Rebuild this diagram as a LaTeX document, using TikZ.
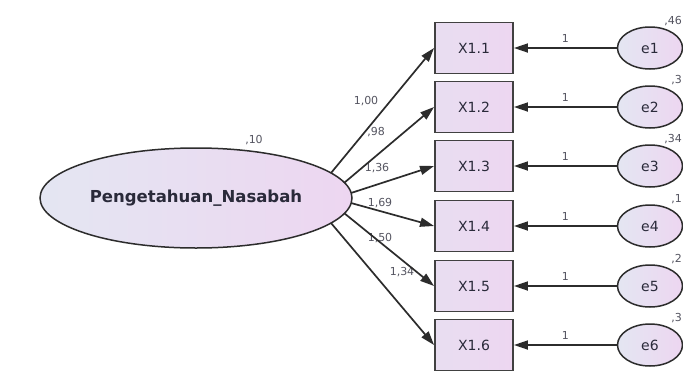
\documentclass[tikz,border=0pt]{standalone}
\usepackage{fontspec}
\setmainfont{DejaVu Sans}
\usetikzlibrary{arrows.meta,shapes.geometric}
\definecolor{edge}{HTML}{2C2C2C}
\definecolor{ink}{HTML}{2A2A3A}
\definecolor{lavL}{HTML}{E4E6F2}
\definecolor{lavR}{HTML}{EDD6F1}
\begin{document}
\begin{tikzpicture}[x=1pt,y=-1pt,
  latent/.style={ellipse,draw=edge,line width=1.5pt,left color=lavL,right color=lavR,
    inner sep=0pt,text=ink},
  observed/.style={rectangle,draw=edge!90,line width=1.9pt,left color=lavL!50!lavR,right color=lavR,
    minimum width=78pt,minimum height=51pt,inner sep=0pt,text=ink,font=\fontsize{14}{16}\selectfont},
  errnode/.style={latent,minimum width=65pt,minimum height=42pt,font=\fontsize{14}{16}\selectfont},
  loading/.style={draw=edge,line width=1.7pt,-{Triangle[length=14pt,width=9pt]}},
  est/.style={font=\fontsize{11}{13}\selectfont,text=ink!80,inner sep=0pt}
]
\useasboundingbox (0,0) rectangle (683,370);
\fill[white] (0,0) rectangle (683,370);

% latent factor
\node[latent,minimum width=312pt,minimum height=100pt,
  font=\bfseries\fontsize{16.5}{18}\selectfont] (F) at (196,198) {Pengetahuan\_Nasabah};
\node[est] (vF) at (254,140) {,10};

% start points of the loadings on the factor ellipse
\coordinate (s1) at (331,173);
\coordinate (s2) at (344,183);
\coordinate (s3) at (351,193);
\coordinate (s4) at (351,203);
\coordinate (s5) at (344,213);
\coordinate (s6) at (331,223);

% loading estimates
\node[est] (l1) at (366,101) {1,00};
\node[est] (l2) at (376,132) {,98};
\node[est] (l3) at (377,168) {1,36};
\node[est] (l4) at (380,203) {1,69};
\node[est] (l5) at (380,238) {1,50};
\node[est] (l6) at (402,272) {1,34};

% indicators, error terms and their paths
\foreach \i/\y/\v in {1/48/{,46},2/107/{,3},3/166/{,34},4/226/{,1},5/286/{,2},6/345/{,3}}{
  \node[observed] (X\i) at (474,\y) {X1.\i};
  \node[errnode] (e\i) at (650,\y) {e\i};
  \node[est,anchor=south east] (ve\i) at (682,\y-22) {\v};
  \draw[loading] (e\i.west) -- (X\i.east) node[midway,above=5pt,est] (w\i) {1};
  \draw[loading] (s\i) -- (X\i.west);
}
\end{tikzpicture}
\end{document}
